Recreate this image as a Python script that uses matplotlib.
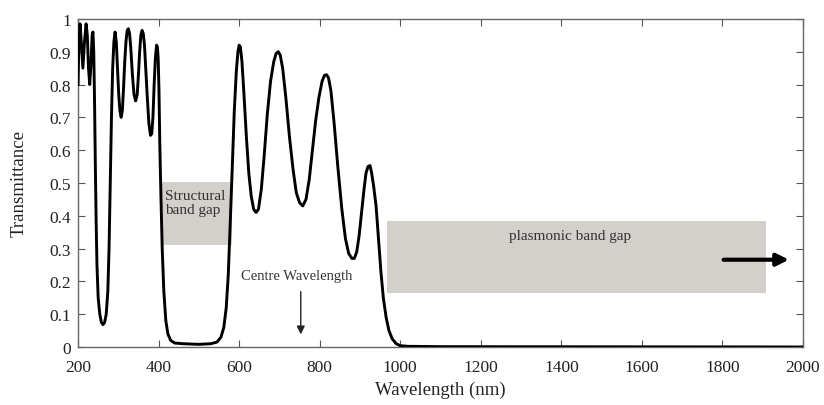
import matplotlib
matplotlib.use("Agg")
import matplotlib.pyplot as plt

plt.rcParams['font.family'] = ['Liberation Serif', 'DejaVu Serif']

wavelength = [200, 202, 205, 208, 212, 216, 220, 223, 226, 229, 232, 235, 237, 239, 241, 243, 245, 247, 250,
              254, 258, 262, 266, 270, 274, 277, 280, 283, 286, 289, 292, 295, 298, 301, 304, 307, 310, 313,
              316, 319, 322, 325, 328, 331, 335, 339, 343, 347, 350, 353, 356, 359, 362, 365, 368, 372, 376,
              380, 383, 386, 389, 392, 395, 397, 399, 401, 403, 406, 409, 413, 418, 423, 430, 440, 460, 500,
              530, 545, 555, 562, 568, 573, 578, 583, 588, 593, 597, 600, 603, 607, 612, 618, 624, 630, 636,
              642, 648, 655, 662, 670, 678, 686, 692, 697, 702, 708, 716, 725, 734, 742, 750, 758, 766, 774,
              782, 790, 798, 806, 812, 817, 822, 828, 836, 845, 855, 864, 872, 880, 886, 892, 898, 904, 910,
              915, 920, 925, 929, 934, 940, 946, 952, 958, 965, 972, 980, 990, 1000, 1020, 1100, 2000]
transmittance = [0.80, 0.92, 0.985, 0.93, 0.85, 0.93, 0.985, 0.95, 0.85, 0.80, 0.86, 0.95, 0.96, 0.90, 0.75,
                 0.55, 0.38, 0.25, 0.15, 0.10, 0.075, 0.068, 0.075, 0.10, 0.17, 0.30, 0.50, 0.70, 0.85, 0.93,
                 0.96, 0.93, 0.85, 0.77, 0.72, 0.70, 0.72, 0.79, 0.87, 0.93, 0.965, 0.97, 0.955, 0.91, 0.83,
                 0.77, 0.75, 0.77, 0.83, 0.90, 0.95, 0.965, 0.955, 0.92, 0.85, 0.76, 0.68, 0.645, 0.65, 0.70,
                 0.80, 0.88, 0.92, 0.915, 0.88, 0.78, 0.62, 0.45, 0.30, 0.17, 0.08, 0.04, 0.02, 0.012, 0.01,
                 0.008, 0.01, 0.015, 0.03, 0.06, 0.12, 0.22, 0.38, 0.55, 0.72, 0.84, 0.90, 0.92, 0.915, 0.87,
                 0.77, 0.64, 0.53, 0.46, 0.42, 0.41, 0.42, 0.48, 0.58, 0.71, 0.81, 0.87, 0.895, 0.90, 0.89,
                 0.85, 0.76, 0.64, 0.54, 0.47, 0.44, 0.43, 0.45, 0.51, 0.60, 0.69, 0.76, 0.81, 0.828, 0.83,
                 0.82, 0.78, 0.68, 0.55, 0.42, 0.33, 0.285, 0.27, 0.27, 0.29, 0.34, 0.41, 0.48, 0.53, 0.55,
                 0.553, 0.53, 0.49, 0.43, 0.33, 0.23, 0.15, 0.09, 0.05, 0.025, 0.01, 0.004, 0.002, 0.001, 0.0]

x_ticks = [200, 400, 600, 800, 1000, 1200, 1400, 1600, 1800, 2000]
y_ticks = [0, 0.1, 0.2, 0.3, 0.4, 0.5, 0.6, 0.7, 0.8, 0.9, 1]
y_tick_labels = ['0', '0.1', '0.2', '0.3', '0.4', '0.5', '0.6', '0.7', '0.8', '0.9', '1']

structural_gap = (408, 582, 0.31, 0.503)
plasmonic_gap = (967, 1907, 0.165, 0.384)

fig = plt.figure(figsize=(8.24, 4.06), dpi=100)
ax = fig.add_axes([0.0947, 0.1429, 0.8798, 0.8081])

box_color = '#d3cfca'
ax.fill_between([structural_gap[0], structural_gap[1]], structural_gap[2], structural_gap[3],
                color=box_color, lw=0, zorder=1)
ax.fill_between([plasmonic_gap[0], plasmonic_gap[1]], plasmonic_gap[2], plasmonic_gap[3],
                color=box_color, lw=0, zorder=1)

ax.plot(wavelength, transmittance, color='black', lw=2.1, zorder=3, solid_joinstyle='round')

ax.text(415, 0.482, 'Structural\nband gap', fontsize=11, color='#333333', va='top', ha='left',
        linespacing=1.1, zorder=4)
ax.text(1421, 0.34, 'plasmonic band gap', fontsize=11, color='#333333', va='center', ha='center', zorder=4)
ax.text(743, 0.217, 'Centre Wavelength', fontsize=10.5, color='#333333', va='center', ha='center', zorder=4)
ax.annotate('', xy=(753, 0.03), xytext=(753, 0.177),
            arrowprops=dict(arrowstyle='-|>', color='#222222', lw=1.0, mutation_scale=12), zorder=4)
ax.annotate('', xy=(1972, 0.266), xytext=(1796, 0.266),
            arrowprops=dict(arrowstyle='-|>', color='black', lw=3.0, mutation_scale=18), zorder=4)

ax.set_xlim(200, 2000)
ax.set_ylim(0, 1)
ax.set_xticks(x_ticks)
ax.set_xticklabels([str(v) for v in x_ticks])
ax.set_yticks(y_ticks)
ax.set_yticklabels(y_tick_labels)
ax.tick_params(direction='in', top=True, right=True, length=5, width=0.8, labelsize=12.5, colors='#555555',
               labelcolor='#222222')
ax.tick_params(axis='x', pad=8.5)
ax.tick_params(axis='y', pad=5)
for s in ax.spines.values():
    s.set_color('#666666')
    s.set_linewidth(1.0)

ax.set_xlabel('Wavelength (nm)', fontsize=13.5, color='#222222', labelpad=4)
ax.set_ylabel('Transmittance', fontsize=13.5, color='#222222', labelpad=16)

fig.savefig('out.png', dpi=100)
